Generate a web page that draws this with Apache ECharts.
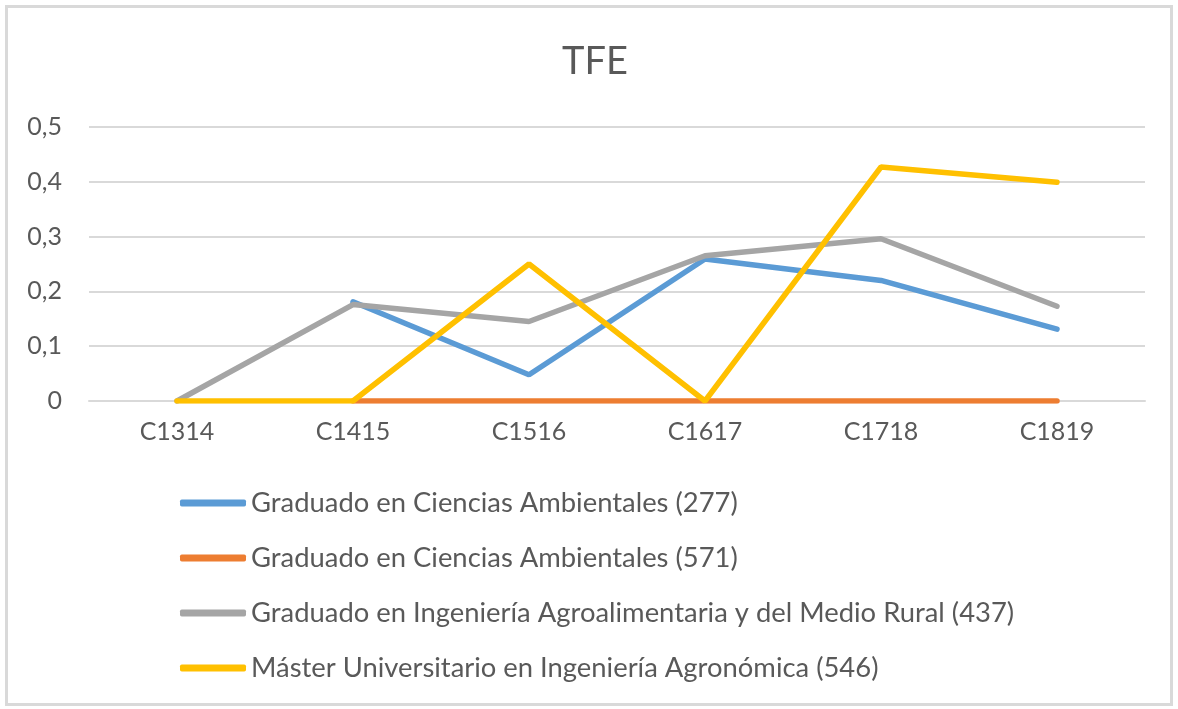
<!DOCTYPE html>
<html>
<head>
<meta charset="utf-8">
<script src="https://cdn.jsdelivr.net/npm/echarts@6/dist/echarts.min.js"></script>
<style>
html,body{margin:0;padding:0;background:#fff;}
#chart{width:1178px;height:709px;}
</style>
</head>
<body>
<div id="chart"></div>
<script>
var categories = ['C1314', 'C1415', 'C1516', 'C1617', 'C1718', 'C1819'];
var seriesNames = [
  'Graduado en Ciencias Ambientales (277)',
  'Graduado en Ciencias Ambientales (571)',
  'Graduado en Ingeniería Agroalimentaria y del Medio Rural (437)',
  'Máster Universitario en Ingeniería Agronómica (546)'
];
var cienciasAmb277 = [null, 0.181, 0.048, 0.259, 0.22, 0.131];
var cienciasAmb571 = [null, 0, 0, 0, 0, 0];
var ingAgro437 = [0, 0.176, 0.145, 0.265, 0.296, 0.173];
var masterAgro546 = [0, 0, 0.25, 0, 0.427, 0.399];
var colors = ['#5b9bd5', '#ed7d31', '#a5a5a5', '#ffc000'];
var allValues = [cienciasAmb277, cienciasAmb571, ingAgro437, masterAgro546];

var font = 'Lato';
var chart = echarts.init(document.getElementById('chart'));
chart.setOption({
  animation: false,
  backgroundColor: '#fff',
  title: {
    text: 'TFE',
    left: 557,
    top: 38,
    textStyle: {fontFamily: font, fontSize: 38, fontWeight: 'normal', color: '#595959'}
  },
  graphic: [{
    type: 'rect',
    shape: {x: 6.5, y: 6.5, width: 1165, height: 698},
    style: {fill: 'none', stroke: '#d9d9d9', lineWidth: 3},
    silent: true
  }],
  grid: {left: 89, right: 33, top: 127, bottom: 308},
  legend: {
    orient: 'vertical',
    left: 175,
    top: 484,
    itemWidth: 66,
    itemHeight: 7,
    itemGap: 27,
    icon: 'roundRect',
    data: seriesNames,
    textStyle: {fontFamily: font, fontSize: 27.4, color: '#595959', lineHeight: 28}
  },
  xAxis: {
    type: 'category',
    data: categories,
    boundaryGap: true,
    axisLine: {show: true, lineStyle: {color: '#d9d9d9', width: 2}},
    axisTick: {show: false},
    axisLabel: {fontFamily: font, fontSize: 25, color: '#595959', margin: 18}
  },
  yAxis: {
    type: 'value',
    min: 0,
    max: 0.5,
    interval: 0.1,
    axisLine: {show: false},
    axisTick: {show: false},
    splitLine: {lineStyle: {color: '#d9d9d9', width: 2}},
    axisLabel: {
      fontFamily: font, fontSize: 25, color: '#595959', margin: 27,
      formatter: function (v) { return String(Math.round(v * 10) / 10).replace('.', ','); }
    }
  },
  series: allValues.map(function (vals, i) {
    return {
      name: seriesNames[i],
      type: 'line',
      data: vals,
      showSymbol: false,
      symbol: 'none',
      color: colors[i],
      lineStyle: {width: 5.5, color: colors[i], cap: 'round'},
      z: 2 + i
    };
  })
});
</script>
</body>
</html>
